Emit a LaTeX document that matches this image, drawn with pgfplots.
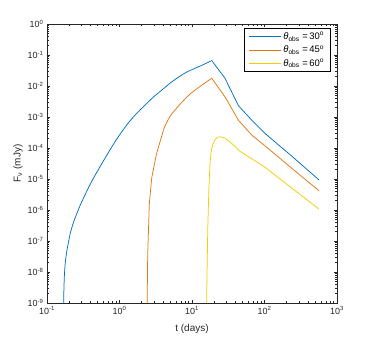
\documentclass[border=0pt]{standalone}
\usepackage{fontspec}
\setmainfont{Liberation Sans}
\usepackage{pgfplots}
\pgfplotsset{compat=1.18}
\definecolor{mblue}{HTML}{0072BD}
\definecolor{morange}{HTML}{DF7A12}
\definecolor{myellow}{HTML}{F4CC00}
\definecolor{axgray}{HTML}{262626}

\begin{document}
\begin{tikzpicture}
\useasboundingbox (0,0) rectangle (372bp,340bp);
\begin{axis}[
    at={(47bp,37bp)}, anchor=south west,
    scale only axis,
    width=290bp, height=279bp,
    xmode=log, ymode=log,
    xmin=0.1, xmax=1000,
    ymin=1e-9, ymax=1,
    xtick={0.1,1,10,100,1000},
    xticklabels={10\textsuperscript{-1},10\textsuperscript{0},10\textsuperscript{1},10\textsuperscript{2},10\textsuperscript{3}},
    ytick={1e-9,1e-8,1e-7,1e-6,1e-5,1e-4,1e-3,1e-2,1e-1,1},
    yticklabels={10\textsuperscript{-9},10\textsuperscript{-8},10\textsuperscript{-7},10\textsuperscript{-6},10\textsuperscript{-5},10\textsuperscript{-4},10\textsuperscript{-3},10\textsuperscript{-2},10\textsuperscript{-1},10\textsuperscript{0}},
    tick align=inside,
    major tick length=3.2bp, minor tick length=2bp,
    axis line style={axgray, line width=0.5bp},
    every tick/.style={axgray, line width=0.4bp},
    tick label style={font=\fontsize{9}{10}\selectfont, text=axgray},
    label style={font=\fontsize{10}{12}\selectfont, text=axgray},
    xlabel={t (days)},
    ylabel={F\textsubscript{ν} (mJy)},
    xlabel style={at={(axis description cs:0.5,-0.093)}, anchor=center},
    ylabel style={at={(axis description cs:-0.1,0.5)}, anchor=center},
    legend style={at={(0.979,0.986)}, anchor=north east, draw=black, line width=0.5bp,
        font=\fontsize{9.5}{11}\selectfont, inner xsep=4.5bp, inner ysep=2bp, row sep=0.5bp},
    legend cell align=left,
    legend image code/.code={\draw[#1, line width=0.8bp] (0bp,0bp) -- (32bp,0bp);},
    every axis plot/.append style={line width=0.75bp, line join=round},
]
\addplot[mblue, smooth, tension=0.4] coordinates {
(0.1698,1e-9) (0.1710,2.512e-9) (0.1734,7.079e-9) (0.1786,1.995e-8) (0.1888,5.129e-8)
(0.1995,1e-7) (0.2094,1.778e-7) (0.2333,4.169e-7) (0.2877,1.445e-6) (0.3565,4.169e-6)
(0.4355,1.047e-5) (0.5623,2.951e-5) (0.7396,8.710e-5) (0.9550,2.239e-4) (1.256,5.495e-4)
(1.622,1.122e-3) (2.128,2.138e-3) (2.924,4.365e-3) (3.981,7.943e-3) (4.977,1.230e-2)
(6.457,1.905e-2) (8.453,2.818e-2) (11.22,3.802e-2) (14.32,4.898e-2) (18.71,6.607e-2)
};
\addlegendentry{\textit{θ}\textsubscript{obs}\ =\,30\textsuperscript{o}}
\addplot[mblue, forget plot] coordinates {
(18.71,6.607e-2) (28.51,1.778e-2) (43.55,2.344e-3) (66.53,7.943e-4) (101.6,2.951e-4)
(239.9,5.370e-5) (564.9,9.333e-6)
};
\addplot[morange, smooth, tension=0.4] coordinates {
(2.415,1e-9) (2.421,3.162e-9) (2.438,1.585e-8) (2.460,5.012e-8) (2.495,1.380e-7)
(2.576,1.445e-6) (2.636,2.692e-6) (2.780,1.047e-5) (2.924,1.950e-5) (3.236,6.310e-5)
(3.622,1.585e-4) (4.169,4.677e-4) (4.977,1.047e-3) (5.521,1.445e-3) (6.761,2.512e-3)
(8.453,4.365e-3) (9.376,5.495e-3) (11.48,7.943e-3) (14.32,1.148e-2) (18.71,1.778e-2)
};
\addlegendentry{\textit{θ}\textsubscript{obs}\ =\,45\textsuperscript{o}}
\addplot[morange, forget plot] coordinates {
(18.71,1.778e-2) (28.51,4.467e-3) (43.55,7.943e-4) (66.53,2.630e-4) (101.6,1.175e-4)
(239.9,2.188e-5) (564.9,4.169e-6)
};
\addplot[myellow, smooth, tension=0.4] coordinates {
(15.96,1e-9) (16.03,3.162e-9) (16.14,1e-8) (16.26,2.754e-8) (16.48,1.995e-7)
(16.79,1.122e-6) (17.18,6.310e-6) (17.70,2.818e-5) (18.20,6.026e-5) (18.71,9.772e-5)
(19.72,1.445e-4) (20.75,1.820e-4) (22.65,2.239e-4) (24.89,2.291e-4) (28.18,2.089e-4)
(31.62,1.738e-4) (36.31,1.318e-4) (41.40,1.000e-4) (44.87,8.128e-5)
};
\addlegendentry{\textit{θ}\textsubscript{obs}\ =\,60\textsuperscript{o}}
\addplot[myellow, forget plot] coordinates {
(44.87,8.128e-5) (101.6,2.399e-5) (239.9,5.012e-6) (564.9,1.072e-6)
};
\end{axis}
\end{tikzpicture}
\end{document}
